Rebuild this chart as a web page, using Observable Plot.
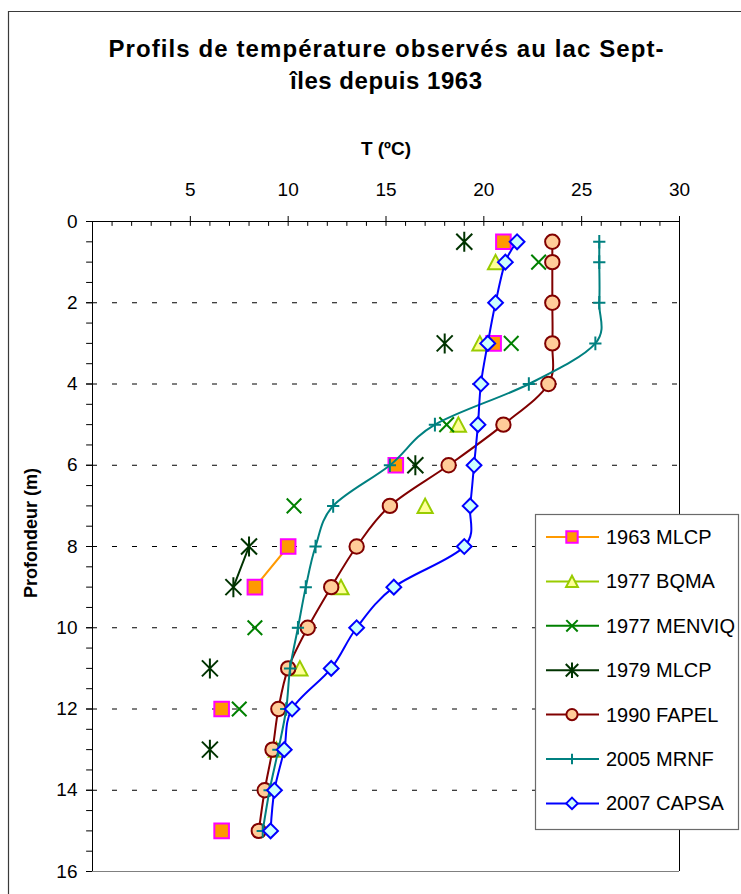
<!DOCTYPE html>
<html><head><meta charset="utf-8">
<script src="https://cdn.jsdelivr.net/npm/d3@7"></script>
<script src="https://cdn.jsdelivr.net/npm/@observablehq/plot@0.6"></script>
<style>
html,body{margin:0;padding:0;background:#fff;}
#chart{position:relative;width:741px;height:894px;overflow:hidden;background:#fff;}
#chart svg{position:absolute;left:0;top:0;}
</style></head><body><div id="chart"></div>
<script>
// ---- data (temperature °C by depth m; null = no measurement) ----
const depths      = [0.5, 1, 2, 3, 4, 5, 6, 7, 8, 9, 10, 11, 12, 13, 14, 15];
const t1963MLCP   = [21.0, null, null, 20.5, null, null, 15.5, null, 10.0, 8.3, null, null, 6.6, null, null, 6.6];
const t1977BQMA   = [null, 20.6, null, 19.8, null, 18.7, null, 17.0, null, 12.7, null, 10.6, null, 9.4, null, null];
const t1977MENVIQ = [null, 22.8, null, 21.4, null, 18.1, null, 10.3, null, null, 8.3, null, 7.5, null, null, null];
const t1979MLCP   = [19.0, null, null, 18.0, null, null, 16.5, null, 8.0, 7.2, null, 6.0, null, 6.0, null, null];
const t1990FAPEL  = [23.5, 23.5, 23.5, 23.5, 23.3, 21.0, 18.2, 15.2, 13.5, 12.2, 11.0, 10.0, 9.5, 9.2, 8.8, 8.5];
const t2005MRNF   = [25.9, 25.9, 25.9, 25.7, 22.3, 17.5, 15.2, 12.3, 11.4, 10.9, 10.5, 10.1, 9.9, 9.5, 9.05, 8.7];
const t2007CAPSA  = [21.7, 21.1, 20.6, 20.2, 19.85, 19.7, 19.5, 19.3, 19.0, 15.4, 13.5, 12.2, 10.2, 9.8, 9.3, 9.1];
const seriesNames = ["1963 MLCP", "1977 BQMA", "1977 MENVIQ", "1979 MLCP", "1990 FAPEL", "2005 MRNF", "2007 CAPSA"];
const xTicks = [5, 10, 15, 20, 25, 30];
const yTicks = [0, 2, 4, 6, 8, 10, 12, 14, 16];
const gridDepths = [2, 4, 6, 8, 10, 12, 14, 16];

// ---- marker symbols ----
const rad = s => Math.sqrt(s / Math.PI);
const sym = {
  square: {draw(c, s) { const r = rad(s); c.rect(-r, -r, 2 * r, 2 * r); }},
  triangle: {draw(c, s) { const r = rad(s), h = r * 0.95; c.moveTo(0, -h); c.lineTo(r, h); c.lineTo(-r, h); c.closePath(); }},
  times: {draw(c, s) { const r = rad(s); c.moveTo(-r, -r); c.lineTo(r, r); c.moveTo(r, -r); c.lineTo(-r, r); }},
  asterisk: {draw(c, s) { const r = rad(s); c.moveTo(-r * 0.8, -r * 0.8); c.lineTo(r * 0.8, r * 0.8); c.moveTo(r * 0.8, -r * 0.8); c.lineTo(-r * 0.8, r * 0.8); c.moveTo(0, -r); c.lineTo(0, r); }},
  circle: {draw(c, s) { const r = rad(s); c.moveTo(r, 0); c.arc(0, 0, r, 0, 2 * Math.PI); }},
  plus: {draw(c, s) { const r = rad(s); c.moveTo(0, -r); c.lineTo(0, r); c.moveTo(-r * 0.9, 0); c.lineTo(r * 0.9, 0); }},
  diamond: {draw(c, s) { const r = rad(s); c.moveTo(0, -r); c.lineTo(r, 0); c.lineTo(0, r); c.lineTo(-r, 0); c.closePath(); }}
};

const values = [t1963MLCP, t1977BQMA, t1977MENVIQ, t1979MLCP, t1990FAPEL, t2005MRNF, t2007CAPSA];
const styles = [
  {line: "#FF9900", symbol: sym.square,   r: 7.3, fill: "#FF9900", stroke: "#FF00FF"},
  {line: "#99CC00", symbol: sym.triangle, r: 7.6, fill: "#FFFF99", stroke: "#99CC00"},
  {line: "#008000", symbol: sym.times,    r: 7.3, fill: "none",    stroke: "#008000"},
  {line: "#003300", symbol: sym.asterisk, r: 10,  fill: "none",    stroke: "#003300"},
  {line: "#800000", symbol: sym.circle,   r: 7.2, fill: "#FFCC99", stroke: "#800000"},
  {line: "#008080", symbol: sym.plus,     r: 6.8, fill: "none",    stroke: "#008080"},
  {line: "#0000FF", symbol: sym.diamond,  r: 7.4, fill: "#CCFFFF", stroke: "#0000FF"}
];

const seriesMarks = [];
values.forEach((vals, i) => {
  const rows = depths.map((d, j) => ({depth: d, t: vals[j]}));
  const st = styles[i];
  seriesMarks.push(Plot.line(rows, {x: "t", y: "depth", stroke: st.line, strokeWidth: 2, curve: "cardinal"}));
  seriesMarks.push(Plot.dot(rows.filter(r => r.t != null), {x: "t", y: "depth", symbol: st.symbol, r: st.r, fill: st.fill, stroke: st.stroke, strokeWidth: 2}));
});

const FONT = "'Liberation Sans', Arial, sans-serif";
const svg = Plot.plot({
  width: 741, height: 894,
  marginLeft: 92, marginRight: 62, marginTop: 221, marginBottom: 23,
  style: {background: "transparent", fontFamily: FONT, fontSize: "19px", color: "#000", overflow: "visible"},
  x: {domain: [0, 30]},
  y: {domain: [0, 16], reverse: true},
  marks: [
    Plot.ruleY(gridDepths, {stroke: "#000", strokeDasharray: "5,15", strokeWidth: 1}),
    Plot.ruleY([16], {stroke: "#808080", strokeWidth: 1}),
    Plot.ruleX([30], {stroke: "#000", strokeWidth: 1}),
    Plot.ruleX(d3.range(1, 30), {x: d => d, y1: 0, y2: 0.12, stroke: "#000"}),
    Plot.ruleY(d3.range(0, 16.5, 0.5), {y: d => d, x1: -0.3, x2: 0, stroke: "#000"}),
    Plot.axisX({anchor: "top", ticks: xTicks, tickSize: 6, tickPadding: 20, label: null, fontSize: 19}),
    Plot.axisY({anchor: "left", ticks: yTicks, tickSize: 6, tickPadding: 9, label: null, fontSize: 19}),
    Plot.ruleX([0], {stroke: "#000"}),
    Plot.ruleY([0], {stroke: "#000"}),
    ...seriesMarks
  ]
});
document.getElementById("chart").appendChild(svg);

// ---- titles, frame, legend ----
const s = d3.select(svg);
s.append("path").attr("d", "M8.5,894V11.5H741").attr("fill", "none").attr("stroke", "#3a3a3a").attr("stroke-width", 1.2);
s.append("text").attr("x", 386).attr("y", 57).attr("text-anchor", "middle")
  .attr("font-family", FONT).attr("font-weight", "bold").attr("font-size", 24)
  .attr("textLength", 555).attr("lengthAdjust", "spacing")
  .text("Profils de température observés au lac Sept-");
s.append("text").attr("x", 386).attr("y", 89).attr("text-anchor", "middle")
  .attr("font-family", FONT).attr("font-weight", "bold").attr("font-size", 24)
  .attr("textLength", 192).attr("lengthAdjust", "spacing")
  .text("îles depuis 1963");
s.append("text").attr("x", 386).attr("y", 155).attr("text-anchor", "middle")
  .attr("font-family", FONT).attr("font-weight", "bold").attr("font-size", 19)
  .text("T (ºC)");
s.append("text").attr("transform", "translate(37,533) rotate(-90)").attr("text-anchor", "middle")
  .attr("font-family", FONT).attr("font-weight", "bold").attr("font-size", 18)
  .text("Profondeur (m)");

const lg = s.append("g").attr("text-anchor", "start");
lg.append("rect").attr("x", 535.5).attr("y", 514.5).attr("width", 203).attr("height", 315)
  .attr("fill", "#fff").attr("stroke", "#6a6a6a").attr("stroke-width", 1.2);
seriesNames.forEach((name, i) => {
  const cy = 537 + i * 44.4, st = styles[i];
  lg.append("line").attr("x1", 546).attr("x2", 599).attr("y1", cy).attr("y2", cy)
    .attr("stroke", st.line).attr("stroke-width", 2);
  const rr = st.r * 0.78;
  lg.append("path").attr("transform", `translate(572,${cy})`)
    .attr("d", d3.symbol(st.symbol, rr * rr * Math.PI)())
    .attr("fill", st.fill).attr("stroke", st.stroke).attr("stroke-width", 2);
  lg.append("text").attr("x", 606).attr("y", cy + 7).attr("text-anchor", "start")
    .attr("font-family", FONT).attr("font-size", 20)
    .text(name);
});
</script></body></html>
